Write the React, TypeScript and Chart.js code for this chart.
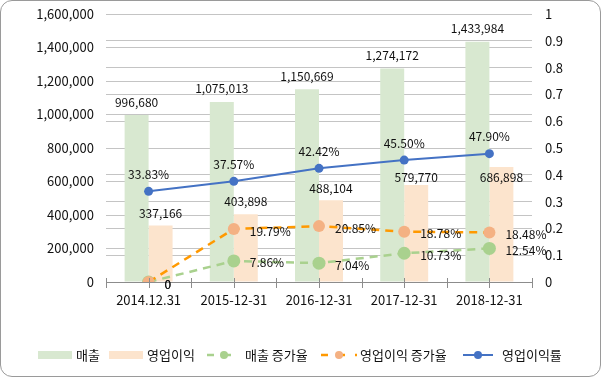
import React, { useEffect, useRef } from 'react';
import { Chart, registerables } from 'chart.js';

Chart.register(...registerables);

// ---------- data ----------
const categories = ['2014.12.31', '2015-12-31', '2016-12-31', '2017-12-31', '2018-12-31'];
const sales = [996680, 1075013, 1150669, 1274172, 1433984];
const opProfit = [337166, 403898, 488104, 579770, 686898];
const salesGrowth = [0, 0.0786, 0.0704, 0.1073, 0.1254];
const opGrowth = [0, 0.1979, 0.2085, 0.1878, 0.1848];
const opMargin = [0.3383, 0.3757, 0.4242, 0.455, 0.479];

const leftMax = 1600000;
const leftStep = 200000;
const rightMax = 1;
const rightStep = 0.1;

// ---------- style ----------
const FONT = '"Noto Sans CJK KR", "Noto Sans", sans-serif';
const TEXT = '#111';
const GREEN_BAR = '#D8E8D0';
const ORANGE_BAR = '#FCE4CD';
const GREEN_LINE = '#A9D18E';
const ORANGE_LINE = '#FF9900';
const ORANGE_POINT = '#F4B183';
const BLUE = '#4472C4';
const GRID = '#C4C4C4';
const AXIS = '#8C8C8C';

const opProfitLabelDy = [-12.5, -12.5, -12, -7, 10];

const fmtNum = (v: number) => v.toLocaleString('en-US');
const fmtPct = (v: number) => (v === 0 ? '0' : (v * 100).toFixed(2) + '%');

const labelPlugin = {
  id: 'labels',
  afterDatasetsDraw(chart: any) {
    const ctx = chart.ctx;
    ctx.save();
    ctx.font = `12px ${FONT}`;
    ctx.fillStyle = TEXT;
    chart.data.datasets.forEach((ds: any, di: number) => {
      const meta = chart.getDatasetMeta(di);
      meta.data.forEach((el: any, i: number) => {
        const v = ds.data[i];
        const kind = ds.labelKind;
        if (kind === 'barTop') {
          ctx.textAlign = 'center';
          ctx.textBaseline = 'middle';
          ctx.fillText(fmtNum(v), el.x, el.y - 13);
        } else if (kind === 'barTopAdj') {
          ctx.textAlign = 'center';
          ctx.textBaseline = 'middle';
          ctx.fillText(fmtNum(v), el.x, el.y + opProfitLabelDy[i]);
        } else if (kind === 'above') {
          ctx.textAlign = 'center';
          ctx.textBaseline = 'middle';
          ctx.fillText(fmtPct(v), el.x, el.y - 17);
        } else if (kind === 'right') {
          ctx.textAlign = 'left';
          ctx.textBaseline = 'middle';
          ctx.fillText(fmtPct(v), el.x + 16, el.y + 2);
        }
      });
    });
    ctx.restore();
  },
};

const axisTickPlugin = {
  id: 'axisTicks',
  afterDraw(chart: any) {
    const ctx = chart.ctx;
    const xs = chart.scales.x;
    const bottom = chart.chartArea.bottom;
    const n = categories.length;
    const half = (xs.getPixelForValue(1) - xs.getPixelForValue(0)) / 2;
    ctx.save();
    ctx.strokeStyle = AXIS;
    ctx.lineWidth = 1;
    const pts: number[] = [];
    for (let i = 0; i < n; i++) {
      const c = xs.getPixelForValue(i);
      pts.push(c - half, c);
      if (i === n - 1) pts.push(c + half);
    }
    pts.forEach((p) => {
      const xx = Math.round(p) + 0.5;
      ctx.beginPath();
      ctx.moveTo(xx, bottom - 4);
      ctx.lineTo(xx, bottom + 6);
      ctx.stroke();
    });
    ctx.restore();
  },
};

const legendItems = [
  { text: '매출', kind: 'box', color: GREEN_BAR, x: 38, w: 34, tx: 76 },
  { text: '영업이익', kind: 'box', color: ORANGE_BAR, x: 109, w: 34, tx: 147 },
  { text: '매출 증가율', kind: 'dash', color: GREEN_LINE, pcolor: GREEN_LINE, x: 207, w: 34, tx: 245 },
  { text: '영업이익 증가율', kind: 'dash', color: ORANGE_LINE, pcolor: ORANGE_POINT, x: 321, w: 36, tx: 360 },
  { text: '영업이익률', kind: 'solid', color: BLUE, pcolor: BLUE, x: 463, w: 30, tx: 502 },
];

const legendPlugin = {
  id: 'customLegend',
  afterDraw(chart: any) {
    const ctx = chart.ctx;
    const cy = 355;
    ctx.save();
    ctx.font = `13px ${FONT}`;
    ctx.textBaseline = 'middle';
    ctx.textAlign = 'left';
    legendItems.forEach((it: any) => {
      if (it.kind === 'box') {
        ctx.fillStyle = it.color;
        ctx.fillRect(it.x, cy - 4, it.w, 8);
      } else {
        ctx.strokeStyle = it.color;
        ctx.lineWidth = it.kind === 'dash' ? 2.5 : 2;
        ctx.setLineDash(it.kind === 'dash' ? [7, 10] : []);
        ctx.beginPath();
        ctx.moveTo(it.x, cy);
        ctx.lineTo(it.x + it.w, cy);
        ctx.stroke();
        ctx.setLineDash([]);
        ctx.fillStyle = it.pcolor;
        ctx.beginPath();
        ctx.arc(it.x + it.w / 2, cy, 4, 0, Math.PI * 2);
        ctx.fill();
      }
      ctx.fillStyle = TEXT;
      ctx.fillText(it.text, it.tx, cy);
    });
    ctx.restore();
  },
};

const zeroPad = (s: any) => {
  s.paddingTop = 0;
  s.paddingBottom = 0;
};

export default function App() {
  const ref = useRef<HTMLCanvasElement>(null);

  useEffect(() => {
    document.body.style.margin = '0';
    const canvas = ref.current;
    if (!canvas) return;
    const chart = new Chart(canvas, {
      type: 'bar',
      data: {
        labels: categories,
        datasets: [
          {
            type: 'line',
            label: '영업이익률',
            data: opMargin,
            yAxisID: 'y1',
            borderColor: BLUE,
            backgroundColor: BLUE,
            borderWidth: 2,
            pointRadius: 4.5,
            pointBorderWidth: 0,
            pointBackgroundColor: BLUE,
            tension: 0,
            order: 0,
            labelKind: 'above',
          } as any,
          {
            type: 'line',
            label: '영업이익 증가율',
            data: opGrowth,
            yAxisID: 'y1',
            borderColor: ORANGE_LINE,
            backgroundColor: ORANGE_POINT,
            borderWidth: 2.5,
            borderDash: [8, 6],
            pointRadius: 6,
            pointBorderWidth: 0,
            pointBackgroundColor: ORANGE_POINT,
            tension: 0,
            order: 1,
            labelKind: 'right',
          } as any,
          {
            type: 'line',
            label: '매출 증가율',
            data: salesGrowth,
            yAxisID: 'y1',
            borderColor: GREEN_LINE,
            backgroundColor: GREEN_LINE,
            borderWidth: 2.5,
            borderDash: [8, 6],
            pointRadius: 6.5,
            pointBorderWidth: 0,
            pointBackgroundColor: GREEN_LINE,
            tension: 0,
            order: 2,
            labelKind: 'right',
          } as any,
          {
            type: 'bar',
            label: '매출',
            data: sales,
            yAxisID: 'y',
            backgroundColor: GREEN_BAR,
            categoryPercentage: 0.563,
            barPercentage: 1,
            order: 3,
            labelKind: 'barTop',
          } as any,
          {
            type: 'bar',
            label: '영업이익',
            data: opProfit,
            yAxisID: 'y',
            backgroundColor: ORANGE_BAR,
            categoryPercentage: 0.563,
            barPercentage: 1,
            order: 4,
            labelKind: 'barTopAdj',
          } as any,
        ],
      },
      options: {
        responsive: false,
        animation: false,
        devicePixelRatio: 1,
        layout: { padding: { top: 14, left: 0, right: 0, bottom: 0 } },
        plugins: {
          legend: { display: false },
          tooltip: { enabled: false },
        },
        scales: {
          x: {
            type: 'category',
            offset: true,
            grid: { display: false, drawTicks: false },
            border: { display: true, color: AXIS, width: 1 },
            ticks: { font: { family: FONT, size: 13 }, color: TEXT, padding: 10, maxRotation: 0 },
            afterFit: (s: any) => {
              s.height = 95;
              s.paddingLeft = 0;
              s.paddingRight = 0;
            },
          },
          y: {
            position: 'left',
            min: 0,
            max: leftMax,
            grid: { color: GRID, drawTicks: false },
            border: { display: false },
            ticks: {
              stepSize: leftStep,
              font: { family: FONT, size: 13 },
              color: TEXT,
              padding: 12,
              callback: (v: any) => fmtNum(Number(v)),
            },
            afterFit: (s: any) => {
              s.width = 106;
              zeroPad(s);
            },
          },
          y1: {
            position: 'right',
            min: 0,
            max: rightMax,
            grid: { color: GRID, drawTicks: false },
            border: { display: false },
            ticks: {
              stepSize: rightStep,
              font: { family: FONT, size: 13 },
              color: TEXT,
              padding: 13,
              callback: (v: any) => String(Math.round(Number(v) * 10) / 10),
            },
            afterFit: (s: any) => {
              s.width = 69;
              zeroPad(s);
            },
          },
        },
      } as any,
      plugins: [axisTickPlugin, labelPlugin, legendPlugin],
    });
    return () => chart.destroy();
  }, []);

  return (
    <div style={{ position: 'fixed', left: 0, top: 0, width: 601, height: 377 }}>
      <canvas ref={ref} width={601} height={377} style={{ display: 'block' }} />
      <div
        style={{
          position: 'absolute',
          left: 0,
          top: 0,
          width: 601,
          height: 377,
          boxSizing: 'border-box',
          border: '1px solid #9a9a9a',
          borderRadius: 12,
          pointerEvents: 'none',
        }}
      />
    </div>
  );
}
